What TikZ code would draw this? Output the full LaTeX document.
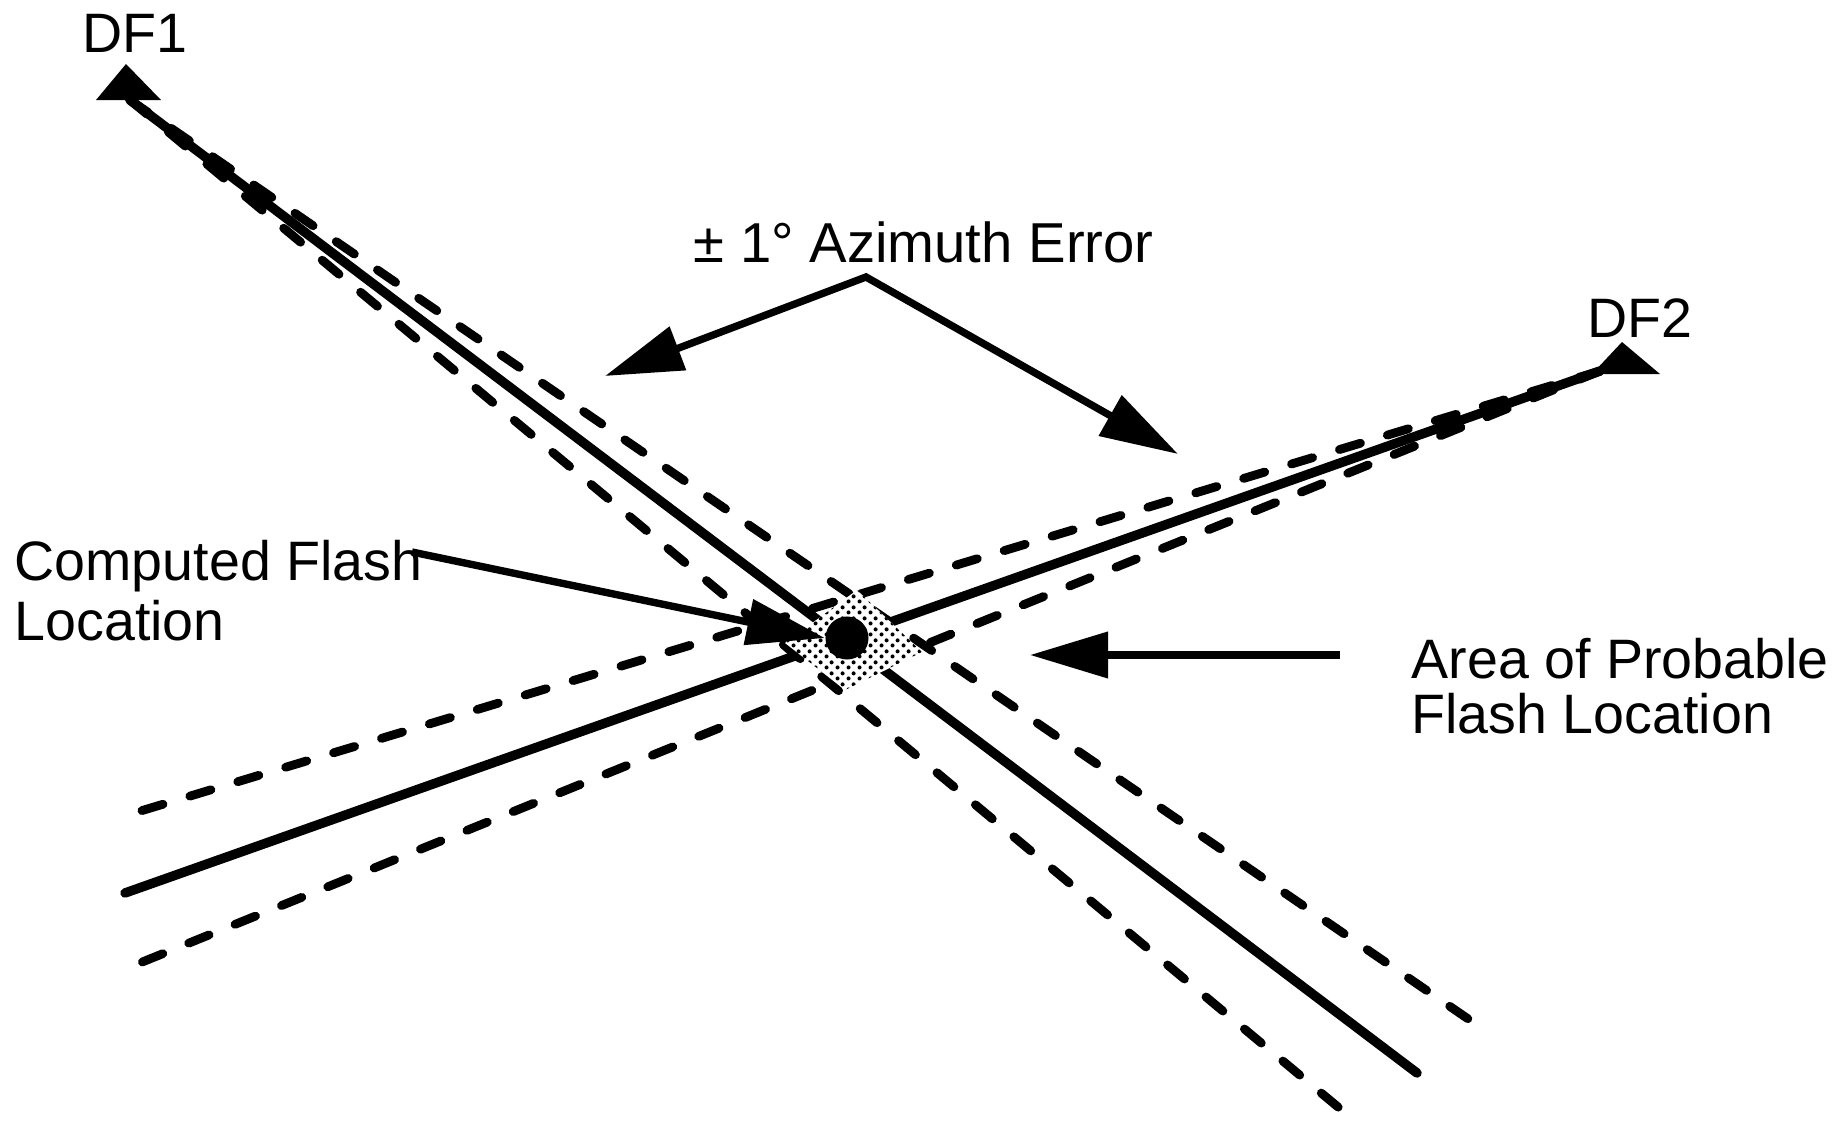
\documentclass[tikz,border=0pt]{standalone}
\usepackage{fontspec}
\setmainfont{Liberation Sans}
\usetikzlibrary{arrows.meta,patterns}
\pgfdeclarepatternformonly{stipple}{\pgfqpoint{0pt}{0pt}}{\pgfqpoint{3pt}{3pt}}{\pgfqpoint{3pt}{3pt}}{%
  \pgfpathcircle{\pgfqpoint{0.75pt}{0.75pt}}{0.6pt}%
  \pgfpathcircle{\pgfqpoint{2.25pt}{2.25pt}}{0.6pt}%
  \pgfusepath{fill}}
\begin{document}
\begin{tikzpicture}[x=0.01cm,y=-0.01cm,
  solidray/.style={line width=2.7pt, line cap=round},
  dashray/.style={line width=2.5pt, line cap=round, dash pattern=on 0.22cm off 0.28cm},
  tip/.tip={Triangle[length=0.78cm,width=0.45cm]},
  arr/.style={line width=2.1pt, -tip},
  lbl/.style={font=\fontsize{15.8pt}{17pt}\selectfont, inner sep=0pt, anchor=base west},
  station/.style={fill=black}]
\useasboundingbox (0,0) rectangle (1841,1124);

% stations and ray end points
\coordinate (O1) at (130,100);
\coordinate (E1) at (1417,1073);
\coordinate (D1u) at (1477,1025);
\coordinate (D1l) at (1350,1117);
\coordinate (O2) at (1600,371);
\coordinate (E2) at (125,893);
\coordinate (D2u) at (124,816);
\coordinate (D2l) at (125,969);

% rays
\draw[solidray] (O1) -- (E1);
\draw[solidray] (O2) -- (E2);
\draw[dashray] (O1) -- (D1u);
\draw[dashray] (O1) -- (D1l);
\draw[dashray] (O2) -- (D2u);
\draw[dashray] (O2) -- (D2l);

% station triangles
\fill[station] (126,64) -- (161,100) -- (96,100) -- cycle;
\fill[station] (1622,342) -- (1660,374) -- (1592,374) -- cycle;

% area of probable location
\coordinate (Q1) at (857,590);
\coordinate (Q2) at (922,652);
\coordinate (Q3) at (845,690);
\coordinate (Q4) at (785,643);
\fill[white] (Q1) -- (Q2) -- (Q3) -- (Q4) -- cycle;
\fill[pattern=stipple, pattern color=black] (Q1) -- (Q2) -- (Q3) -- (Q4) -- cycle;

% computed flash location
\node[circle, fill=black, minimum size=0.43cm, inner sep=0pt] (dot) at (847,638) {};

% labels
\node[lbl] (df1) at (82,53) {DF1};
\node[lbl] (df2) at (1587,337) {DF2};
\node[lbl, font=\fontsize{16pt}{17pt}\selectfont] (az) at (693,262) {± 1° Azimuth Error};
\node[lbl] (cfl1) at (14,580) {Computed Flash};
\node[lbl] (cfl2) at (14,640) {Location};
\node[lbl] (apa1) at (1411,678) {Area of Probable};
\node[lbl] (apa2) at (1411,733) {Flash Location};

% arrows
\coordinate (azApex) at (866,277);
\coordinate (azL) at (605,376);
\coordinate (azR) at (1178,454);
\draw[arr, line join=miter, tip-tip] (azL) -- (azApex) -- (azR);

\coordinate (cflStart) at (412,552);
\draw[arr] (cflStart) -- (dot.west);

\coordinate (apaStart) at (1340,655);
\coordinate (apaTip) at (1030,655);
\draw[arr] (apaStart) -- (apaTip);
\end{tikzpicture}
\end{document}
